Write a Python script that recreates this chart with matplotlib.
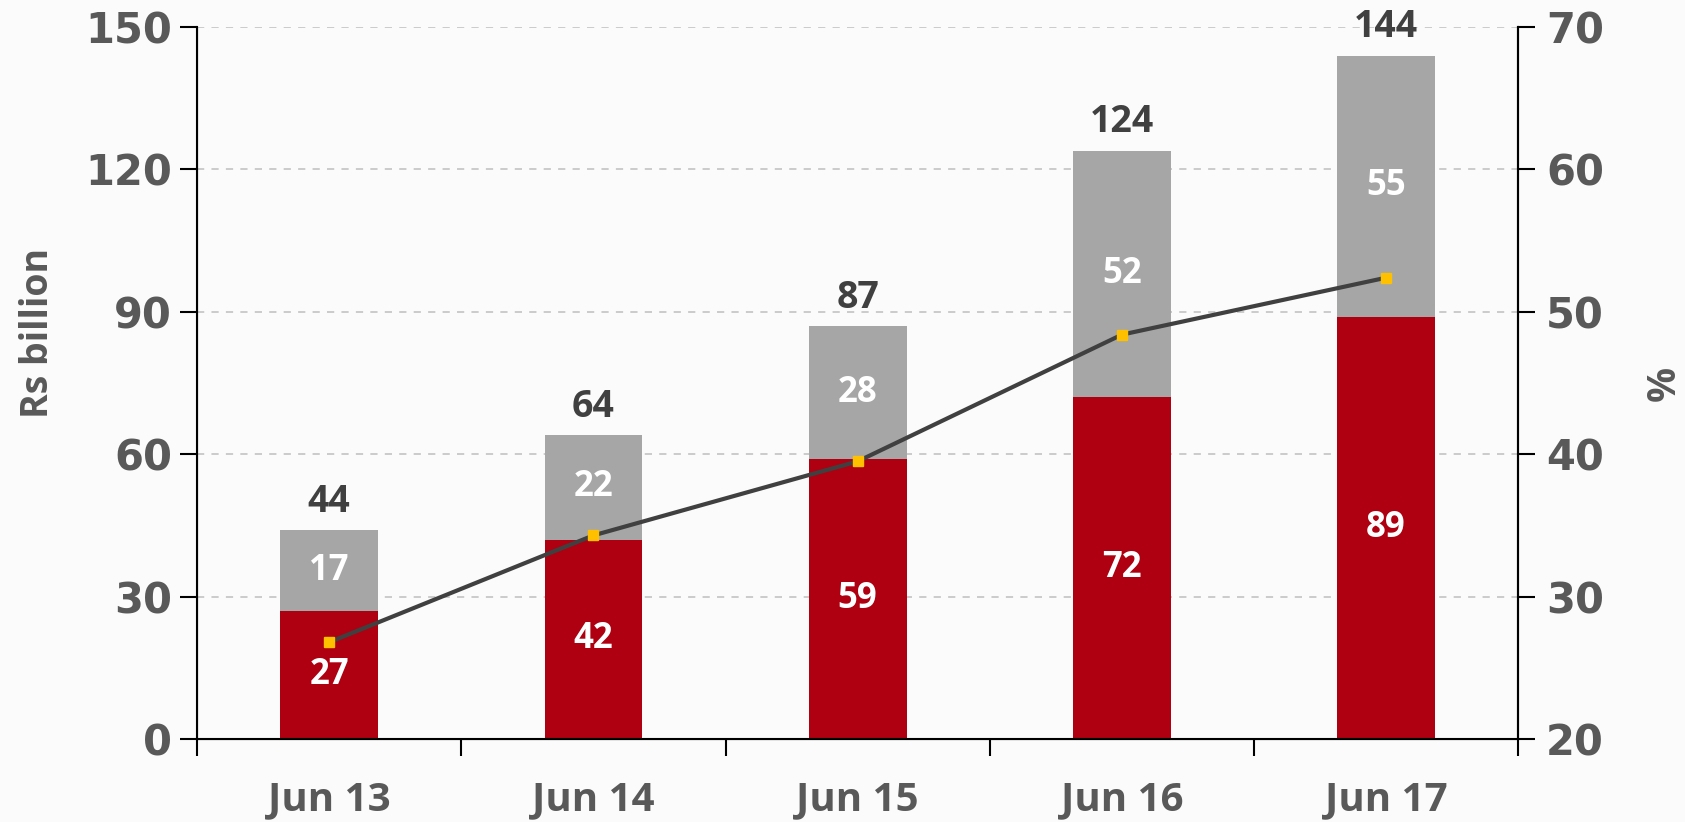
import matplotlib
matplotlib.use("Agg")
from matplotlib import pyplot as plt
import numpy as np

categories = ["Jun 13", "Jun 14", "Jun 15", "Jun 16", "Jun 17"]
red_vals = [27, 42, 59, 72, 89]
grey_vals = [17, 22, 28, 52, 55]
totals = [44, 64, 87, 124, 144]
pct_vals = [26.8, 34.3, 39.5, 48.4, 52.4]

red = "#AE0010"
grey = "#A6A6A6"
txt = "#595959"
lbl_font = "Open Sans"

fig = plt.figure(figsize=(16.85, 8.22), dpi=100)
fig.patch.set_facecolor("#fbfbfb")
ax = fig.add_axes([0.117, 0.101, 0.784, 0.866])
ax.set_facecolor("none")

x = np.arange(len(categories))
w = 0.37
ax.bar(x, red_vals, w, color=red, zorder=2)
ax.bar(x, grey_vals, w, bottom=red_vals, color=grey, zorder=2)

for i in range(len(x)):
    ax.text(x[i], red_vals[i] / 2, str(red_vals[i]), ha="center", va="center",
            color="white", fontsize=25, fontweight="bold", family=lbl_font, zorder=5)
    ax.text(x[i], red_vals[i] + grey_vals[i] / 2, str(grey_vals[i]), ha="center", va="center",
            color="white", fontsize=25, fontweight="bold", family=lbl_font, zorder=5)
    ax.text(x[i], totals[i] + 2, str(totals[i]), ha="center", va="bottom",
            color="#404040", fontsize=27, fontweight="bold", family=lbl_font, zorder=5)

ax.set_xlim(-0.5, 4.5)
ax.set_ylim(0, 150)
ax.set_yticks(range(0, 151, 30))
ax.grid(axis="y", linestyle=(0, (4, 4)), color="#c8c8c8", linewidth=1.3, zorder=0)

ax.set_xticks(np.arange(-0.5, 5, 1))
ax.set_xticklabels([])
ax.set_xticks(x, minor=True)
ax.set_xticklabels(categories, minor=True, fontsize=29, fontweight="bold",
                   family=lbl_font, color=txt)
ax.tick_params(axis="x", which="major", length=12, width=1.5, direction="out")
ax.tick_params(axis="x", which="minor", length=0, pad=30)
ax.tick_params(axis="y", length=12, width=1.5, direction="out", labelsize=30, labelcolor=txt, pad=6)
for t in ax.get_yticklabels():
    t.set_fontweight("bold")

ax.spines["top"].set_visible(False)
for s in ["left", "bottom", "right"]:
    ax.spines[s].set_linewidth(1.5)

ax.set_ylabel("Rs billion", fontsize=27, fontweight="bold", family=lbl_font, color=txt)
ax.yaxis.set_label_coords(-0.106, 0.57)

ax2 = ax.twinx()
ax2.plot(x, pct_vals, color="#404040", linewidth=3, marker="s", markersize=7,
         markerfacecolor="#FFC000", markeredgecolor="#FFC000", zorder=4)
ax2.set_ylim(20, 70)
ax2.set_yticks(range(20, 71, 10))
ax2.tick_params(axis="y", length=12, width=1.5, direction="out", labelsize=30, labelcolor=txt, pad=8)
for t in ax2.get_yticklabels():
    t.set_fontweight("bold")
ax2.spines["top"].set_visible(False)
ax2.spines["right"].set_linewidth(1.5)
ax2.set_ylabel("%", fontsize=28, fontweight="bold", family=lbl_font, color=txt)
ax2.yaxis.set_label_coords(1.096, 0.5)

plt.savefig("out.png", dpi=100, facecolor=fig.get_facecolor())
